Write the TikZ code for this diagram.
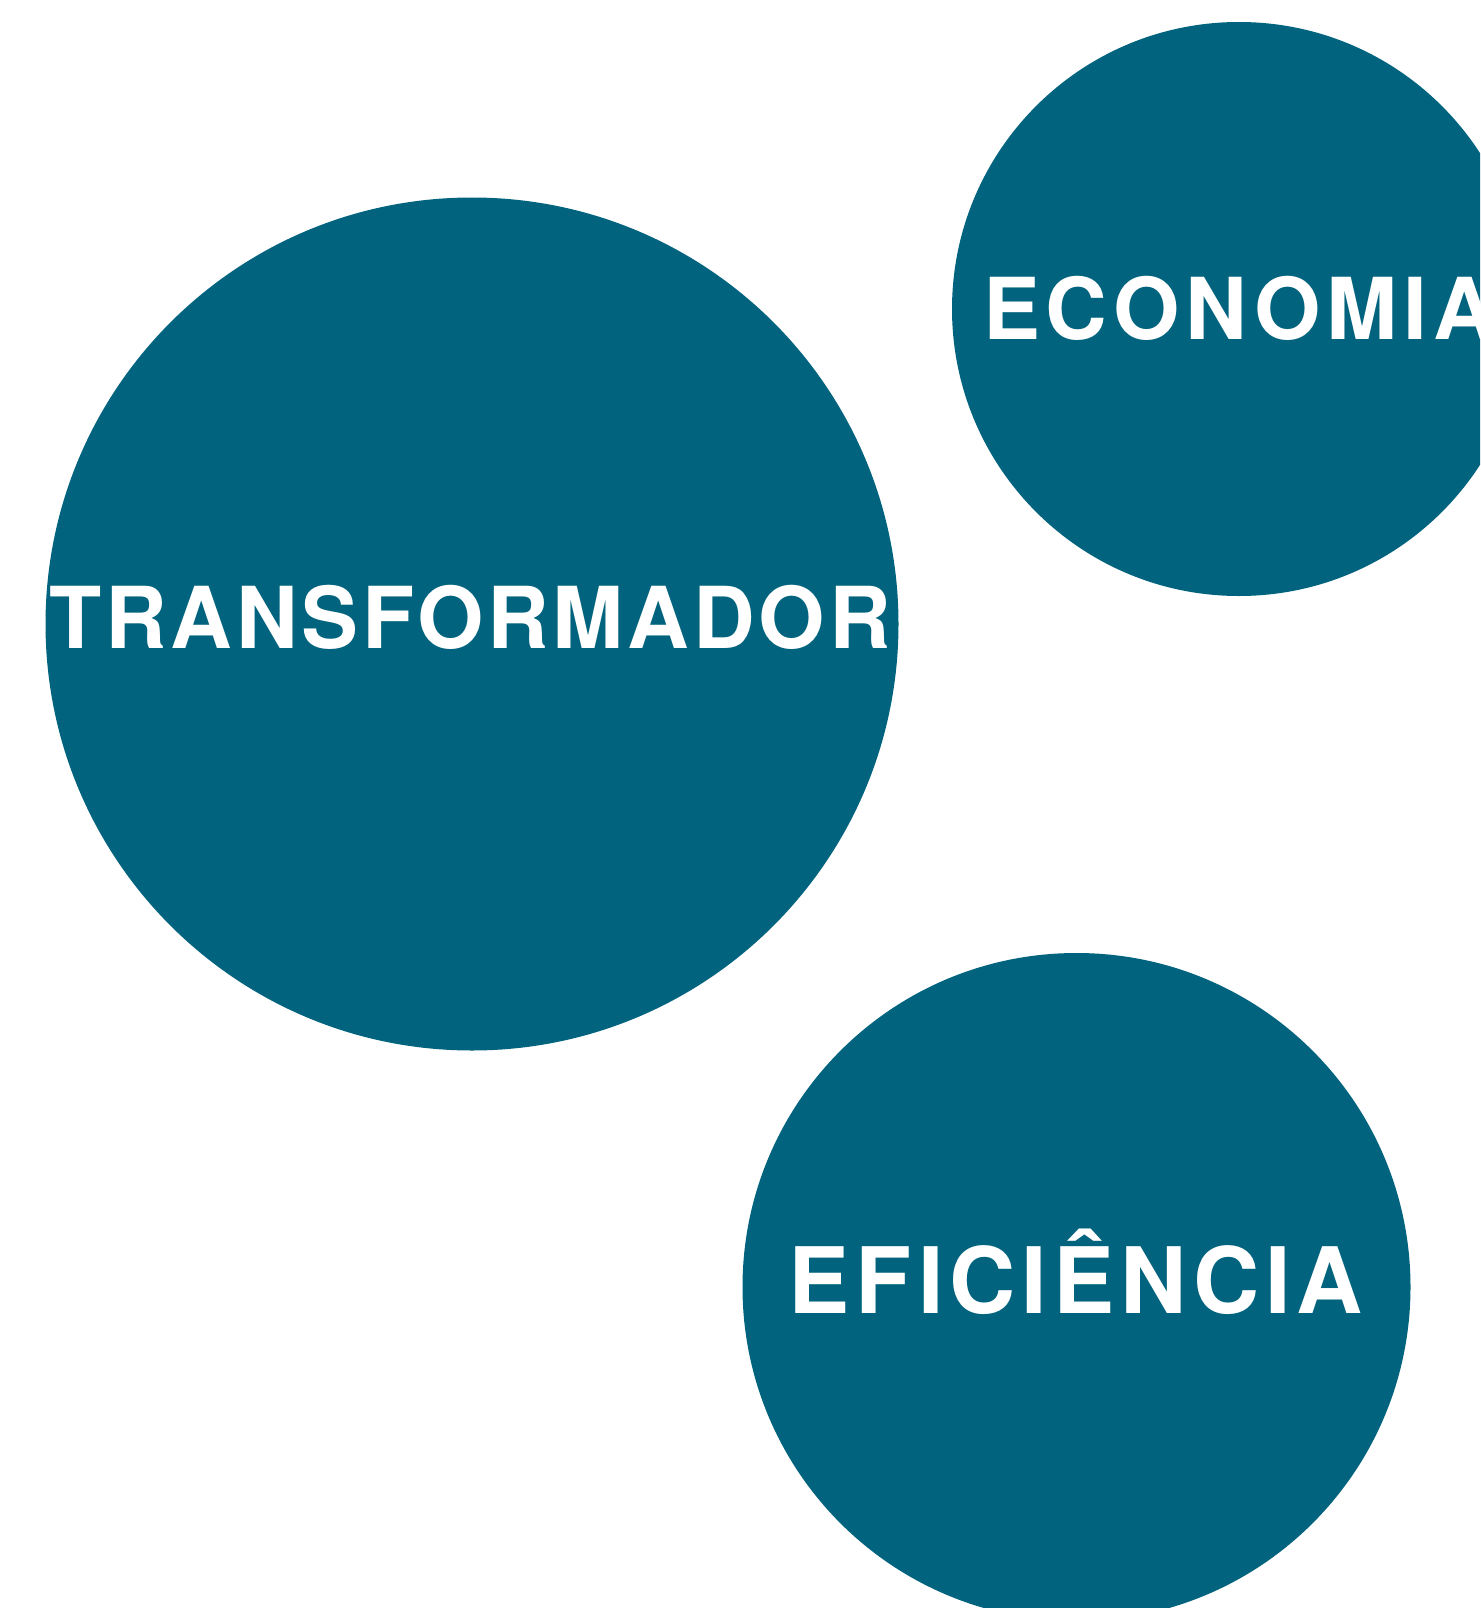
\documentclass[tikz,border=0pt]{standalone}
\usepackage{fontspec}
\newfontfamily\hvfont{TeX Gyre Heros}[LetterSpace=4.5]
\newfontfamily\hvwide{TeX Gyre Heros}[LetterSpace=7]
\newfontfamily\hvmid{TeX Gyre Heros}[LetterSpace=6.5]
\definecolor{tealblue}{RGB}{1,99,125}
\begin{document}
\begin{tikzpicture}[x=1pt,y=-1pt,
  bubble/.style={circle,fill=tealblue,draw=none,inner sep=0pt,outer sep=0pt},
  word/.style={text=white,inner sep=0pt,anchor=base,font=\hvfont\bfseries\fontsize{85.4}{90}\selectfont},
  wideword/.style={word,font=\hvwide\bfseries\fontsize{85.4}{90}\selectfont},
  bigword/.style={word,font=\hvmid\bfseries\fontsize{91.7}{96}\selectfont}]
\useasboundingbox (0,0) rectangle (1480,1608);
\clip (0,0) rectangle (1480,1608);
\node[bubble,minimum size=853pt] (trans) at (472,624) {};
\node[bubble,minimum size=574pt] (econ) at (1239,309) {};
\node[bubble,minimum size=668pt] (efic) at (1076.5,1287) {};
\node[word] (transtxt) at (470,648) {TRANSFORMADOR};
\node[wideword] (econtxt) at (1239,339.5) {ECONOMIA};
\node[bigword] (efictxt) at (1076,1313) {EFICIÊNCIA};
\end{tikzpicture}
\end{document}
